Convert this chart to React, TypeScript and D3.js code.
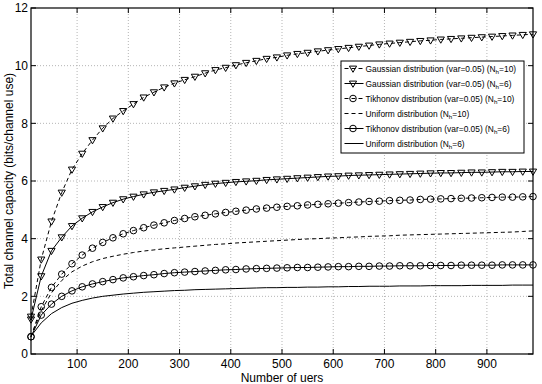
import React from 'react';
import * as d3 from 'd3';

// number of users at which every curve is sampled
const users = [
  10, 30, 50, 70, 90, 110, 130, 150, 170, 190,
  210, 230, 250, 270, 290, 310, 330, 350, 370, 390,
  410, 430, 450, 470, 490, 510, 530, 550, 570, 590,
  610, 630, 650, 670, 690, 710, 730, 750, 770, 790,
  810, 830, 850, 870, 890, 910, 930, 950, 970, 990,
];

const gaussian10 = [
  1.3, 3.28, 4.6, 5.6, 6.4, 6.95, 7.42, 7.83, 8.17, 8.43,
  8.67, 8.9, 9.08, 9.25, 9.39, 9.51, 9.62, 9.74, 9.85, 9.93,
  10.02, 10.1, 10.17, 10.24, 10.29, 10.36, 10.41, 10.45, 10.5, 10.54,
  10.58, 10.62, 10.66, 10.7, 10.74, 10.77, 10.8, 10.83, 10.86, 10.88,
  10.91, 10.93, 10.95, 10.97, 10.99, 11.01, 11.03, 11.05, 11.07, 11.09,
];

const gaussian6 = [
  1.2, 2.7, 3.58, 4.05, 4.44, 4.71, 4.93, 5.1, 5.25, 5.37,
  5.46, 5.54, 5.61, 5.66, 5.71, 5.77, 5.82, 5.87, 5.91, 5.94,
  5.97, 5.99, 6.01, 6.04, 6.06, 6.08, 6.1, 6.12, 6.14, 6.16,
  6.17, 6.19, 6.2, 6.21, 6.22, 6.23, 6.24, 6.25, 6.26, 6.27,
  6.28, 6.28, 6.29, 6.3, 6.3, 6.31, 6.32, 6.32, 6.33, 6.33,
];

const tikhonov10 = [
  0.6, 1.64, 2.31, 2.77, 3.13, 3.43, 3.67, 3.87, 4.03, 4.17,
  4.28, 4.38, 4.47, 4.55, 4.63, 4.7, 4.76, 4.81, 4.86, 4.91,
  4.95, 4.99, 5.03, 5.06, 5.09, 5.12, 5.14, 5.17, 5.19, 5.21,
  5.23, 5.25, 5.27, 5.29, 5.3, 5.32, 5.33, 5.34, 5.36, 5.37,
  5.38, 5.39, 5.4, 5.41, 5.42, 5.43, 5.44, 5.44, 5.45, 5.46,
];

const uniform10 = [
  0.6, 1.5, 2.12, 2.55, 2.85, 3.05, 3.2, 3.31, 3.39, 3.46,
  3.52, 3.57, 3.61, 3.65, 3.68, 3.71, 3.74, 3.77, 3.8, 3.82,
  3.85, 3.87, 3.89, 3.91, 3.93, 3.95, 3.97, 3.99, 4.0, 4.02,
  4.03, 4.05, 4.06, 4.08, 4.09, 4.1, 4.12, 4.13, 4.14, 4.15,
  4.16, 4.17, 4.18, 4.19, 4.2, 4.21, 4.22, 4.23, 4.25, 4.27,
];

const tikhonov6 = [
  0.6, 1.35, 1.73, 2.0, 2.19, 2.33, 2.43, 2.51, 2.58, 2.64,
  2.68, 2.72, 2.75, 2.79, 2.82, 2.84, 2.86, 2.88, 2.9, 2.92,
  2.93, 2.95, 2.96, 2.97, 2.98, 2.99, 3.0, 3.0, 3.01, 3.02,
  3.03, 3.03, 3.04, 3.04, 3.05, 3.05, 3.06, 3.06, 3.06, 3.07,
  3.07, 3.07, 3.08, 3.08, 3.08, 3.08, 3.09, 3.09, 3.09, 3.09,
];

const uniform6 = [
  0.62, 1.08, 1.4, 1.61, 1.76, 1.86, 1.94, 2.0, 2.04, 2.08,
  2.11, 2.14, 2.16, 2.18, 2.2, 2.21, 2.23, 2.24, 2.25, 2.26,
  2.27, 2.28, 2.29, 2.3, 2.3, 2.31, 2.31, 2.32, 2.32, 2.33,
  2.33, 2.34, 2.34, 2.35, 2.35, 2.35, 2.36, 2.36, 2.36, 2.37,
  2.37, 2.37, 2.37, 2.38, 2.38, 2.38, 2.38, 2.39, 2.39, 2.39,
];

const xTicks = [100, 200, 300, 400, 500, 600, 700, 800, 900];
const yTicks = [0, 2, 4, 6, 8, 10, 12];

type Marker = 'tri' | 'circle' | 'none';

const series: { label: string; nh: string; values: number[]; dashed: boolean; marker: Marker }[] = [
  { label: 'Gaussian distribution (var=0.05) (N', nh: '10', values: gaussian10, dashed: true, marker: 'tri' },
  { label: 'Gaussian distribution (var=0.05) (N', nh: '6', values: gaussian6, dashed: false, marker: 'tri' },
  { label: 'Tikhonov distribution (var=0.05) (N', nh: '10', values: tikhonov10, dashed: true, marker: 'circle' },
  { label: 'Uniform distribution (N', nh: '10', values: uniform10, dashed: true, marker: 'none' },
  { label: 'Tikhonov distribution (var=0.05) (N', nh: '6', values: tikhonov6, dashed: false, marker: 'circle' },
  { label: 'Uniform distribution (N', nh: '6', values: uniform6, dashed: false, marker: 'none' },
];

const W = 542;
const H = 384;
const left = 31;
const right = 533;
const top = 8;
const bottom = 354;
const font = 'Liberation Sans, Arial, Helvetica, sans-serif';

const tri = 'M-3.6,-2.4L3.6,-2.4L0,3.8Z';

const MarkerShape = ({ kind, x, y }: { kind: Marker; x: number; y: number }) => {
  if (kind === 'tri') {
    return <path d={tri} transform={`translate(${x},${y})`} fill="none" stroke="#000" strokeWidth={1} />;
  }
  if (kind === 'circle') {
    return <circle cx={x} cy={y} r={3.3} fill="none" stroke="#000" strokeWidth={1} />;
  }
  return null;
};

const App = () => {
  const x = d3.scaleLinear().domain([10, 990]).range([left, right]);
  const y = d3.scaleLinear().domain([0, 12]).range([bottom, top]);

  const line = d3
    .line<number>()
    .x((_, i) => x(users[i]))
    .y((d) => y(d));

  // legend box geometry
  const lgX = 341;
  const lgY = 61;
  const lgW = 183;
  const lgRow = 15;

  return (
    <svg width={W} height={H} style={{ position: 'absolute', left: 0, top: 0 }} fontFamily={font}>
      <rect x={0} y={0} width={W} height={H} fill="#fff" />

      {/* dotted grid */}
      <g stroke="#b5b5b5" strokeWidth={1} strokeDasharray="1,2">
        {xTicks.map((t) => (
          <line key={`gx${t}`} x1={x(t)} x2={x(t)} y1={top} y2={bottom} />
        ))}
        {yTicks.slice(1, -1).map((t) => (
          <line key={`gy${t}`} x1={left} x2={right} y1={y(t)} y2={y(t)} />
        ))}
      </g>

      {/* curves */}
      {series.map((s, k) => (
        <g key={k}>
          <path
            d={line(s.values) ?? ''}
            fill="none"
            stroke="#000"
            strokeWidth={1}
            strokeDasharray={s.dashed ? '4,3' : undefined}
          />
          {s.values.map((v, i) => (
            <MarkerShape key={i} kind={s.marker} x={x(users[i])} y={y(v)} />
          ))}
        </g>
      ))}

      {/* axes box with inward ticks */}
      <rect x={left} y={top} width={right - left} height={bottom - top} fill="none" stroke="#000" strokeWidth={1.2} />
      <g stroke="#000" strokeWidth={1}>
        {xTicks.map((t) => (
          <g key={`tx${t}`}>
            <line x1={x(t)} x2={x(t)} y1={bottom} y2={bottom - 5} />
            <line x1={x(t)} x2={x(t)} y1={top} y2={top + 5} />
          </g>
        ))}
        {yTicks.map((t) => (
          <g key={`ty${t}`}>
            <line x1={left} x2={left + 5} y1={y(t)} y2={y(t)} />
            <line x1={right} x2={right - 5} y1={y(t)} y2={y(t)} />
          </g>
        ))}
      </g>

      {/* tick labels */}
      <g fontSize={12} fill="#000">
        {xTicks.map((t) => (
          <text key={`lx${t}`} x={x(t)} y={367.5} textAnchor="middle">
            {t}
          </text>
        ))}
        {yTicks.map((t) => (
          <text key={`ly${t}`} x={28} y={y(t) + 4.3} textAnchor="end">
            {t}
          </text>
        ))}
      </g>

      {/* axis titles */}
      <text x={(left + right) / 2} y={381.5} fontSize={12} textAnchor="middle">
        Number of uers
      </text>
      <text
        transform={`translate(12.5,${(top + bottom) / 2}) rotate(-90)`}
        fontSize={12}
        textAnchor="middle"
      >
        Total channel capacity (bits/channel use)
      </text>

      {/* legend */}
      <rect x={lgX} y={lgY} width={lgW} height={lgRow * 6 + 2} fill="#fff" stroke="#000" strokeWidth={1} />
      {series.map((s, k) => {
        const cy = lgY + 7.5 + k * lgRow;
        return (
          <g key={`lg${k}`}>
            <line
              x1={lgX + 3.5}
              x2={lgX + 22.5}
              y1={cy}
              y2={cy}
              stroke="#000"
              strokeWidth={1}
              strokeDasharray={s.dashed ? '4,3' : undefined}
            />
            <MarkerShape kind={s.marker} x={lgX + 12} y={cy} />
            <text x={lgX + 24.5} y={cy + 3} fontSize={8.4} fill="#000">
              {s.label}
              <tspan fontSize={6.2} dy={2.2}>h</tspan>
              <tspan dy={-2.2}>={s.nh})</tspan>
            </text>
          </g>
        );
      })}
    </svg>
  );
};

export default App;
